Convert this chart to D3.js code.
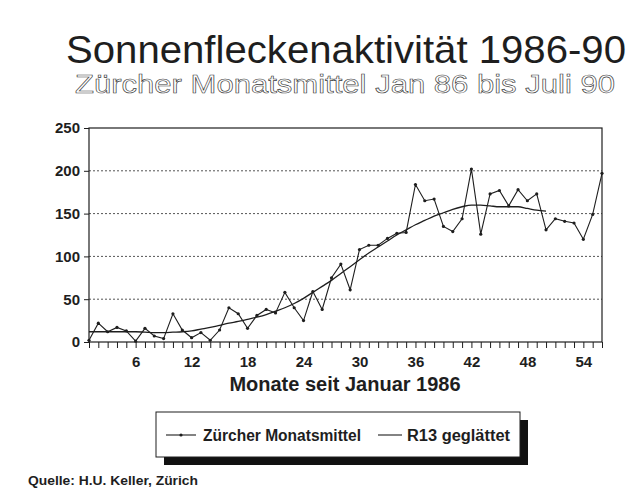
<!DOCTYPE html>
<html>
<head>
<meta charset="utf-8">
<script src="https://cdn.jsdelivr.net/npm/d3@7"></script>
<style>
  body { margin: 0; background: #fff; }
  svg { display: block; font-family: "Liberation Sans", Arial, Helvetica, sans-serif; }
</style>
</head>
<body>
<div id="chart"></div>
<script>
// Zürcher Monatsmittel, Monate 1..56 (Jan 1986 ...)
const monthly = [2, 22, 12, 17, 13, 1, 16, 7, 4, 33, 14, 5,
    11, 2, 14, 40, 33, 16, 31, 38, 34, 58, 40, 25,
    59, 38, 75, 91, 61, 108, 113, 113, 121, 127, 128, 184,
    165, 167, 135, 129, 144, 202, 126, 173, 177, 159, 178, 165,
    173, 131, 144, 141, 139, 120, 149, 197];
// R13 geglättet, Monate 1..50
const smoothed = [12, 12, 12, 12, 12, 12, 11.5, 11, 11, 11.5, 12, 13,
    15, 17, 19.5, 22, 24, 26.5, 29, 32, 36, 40, 45, 51,
    58, 65, 72, 80, 88, 96, 104, 111, 118, 125, 131, 137,
    142, 147, 151, 155, 158, 160, 160, 159, 158, 158, 158, 156,
    154, 153];
const yTicks = [0, 50, 100, 150, 200, 250];
const xTickLabels = [6, 12, 18, 24, 30, 36, 42, 48, 54];
const seriesNames = ["Zürcher Monatsmittel", "R13 geglättet"];

const W = 640, H = 502;
const plot = { left: 89, right: 602, top: 128, bottom: 342 };
const ink = "#1e1e1e";

const svg = d3.select("#chart").append("svg")
    .attr("width", W)
    .attr("height", H);

svg.append("rect").attr("width", W).attr("height", H).attr("fill", "#fff");

// titles
svg.append("text")
    .attr("x", 346).attr("y", 63)
    .attr("text-anchor", "middle")
    .attr("font-size", 39)
    .attr("fill", ink)
    .attr("textLength", 560)
    .attr("lengthAdjust", "spacingAndGlyphs")
    .text("Sonnenfleckenaktivität 1986-90");

svg.append("text")
    .attr("x", 345).attr("y", 93)
    .attr("text-anchor", "middle")
    .attr("font-size", 26)
    .attr("fill", "#fff")
    .attr("stroke", "#3a3a3a")
    .attr("stroke-width", 0.6)
    .attr("textLength", 540)
    .attr("lengthAdjust", "spacingAndGlyphs")
    .text("Zürcher Monatsmittel Jan 86 bis Juli 90");

var x = d3.scaleLinear().domain([1, 56]).range([plot.left, plot.right]),
    y = d3.scaleLinear().domain([0, 250]).range([plot.bottom, plot.top]);

// grid
svg.append("g")
    .selectAll("line")
    .data(yTicks.filter(d => d > 0 && d < 250))
    .enter().append("line")
    .attr("x1", plot.left).attr("x2", plot.right)
    .attr("y1", d => y(d)).attr("y2", d => y(d))
    .attr("stroke", "#555")
    .attr("stroke-width", 1)
    .attr("stroke-dasharray", "2,2");

// frame
svg.append("rect")
    .attr("x", plot.left).attr("y", plot.top)
    .attr("width", plot.right - plot.left)
    .attr("height", plot.bottom - plot.top)
    .attr("fill", "none")
    .attr("stroke", ink)
    .attr("stroke-width", 1.2);

// y axis
var yAxis = svg.append("g")
    .attr("transform", "translate(" + plot.left + ",0)")
    .call(d3.axisLeft(y).tickValues(yTicks).tickSize(5).tickPadding(4));
yAxis.select(".domain").remove();
yAxis.selectAll("line").attr("stroke", ink);
yAxis.selectAll("text")
    .attr("font-size", 15)
    .attr("font-weight", "bold")
    .attr("fill", ink)
    .attr("font-family", "Liberation Sans, Arial, sans-serif");

// x axis: a tick every month
var xAxis = svg.append("g")
    .attr("transform", "translate(0," + plot.bottom + ")")
    .call(d3.axisBottom(x).tickValues(d3.range(1, 57)).tickSize(6).tickFormat(""));
xAxis.select(".domain").remove();
xAxis.selectAll("line").attr("stroke", ink);

var xLab = svg.append("g")
    .attr("transform", "translate(0," + plot.bottom + ")")
    .call(d3.axisBottom(x).tickValues(xTickLabels).tickSize(0).tickPadding(14));
xLab.select(".domain").remove();
xLab.selectAll("text")
    .attr("font-size", 15)
    .attr("font-weight", "bold")
    .attr("fill", ink)
    .attr("font-family", "Liberation Sans, Arial, sans-serif");

svg.append("text")
    .attr("x", 345).attr("y", 391)
    .attr("text-anchor", "middle")
    .attr("font-size", 20)
    .attr("font-weight", "bold")
    .attr("fill", ink)
    .text("Monate seit Januar 1986");

// series
svg.append("path")
    .datum(smoothed)
    .attr("d", d3.line().x((d, i) => x(i + 1)).y(d => y(d)).curve(d3.curveMonotoneX))
    .attr("fill", "none")
    .attr("stroke", ink)
    .attr("stroke-width", 1.3);

svg.append("path")
    .datum(monthly)
    .attr("d", d3.line().x((d, i) => x(i + 1)).y(d => y(d)))
    .attr("fill", "none")
    .attr("stroke", ink)
    .attr("stroke-width", 1.1);

svg.selectAll(".dot")
    .data(monthly)
    .enter().append("circle")
    .attr("class", "dot")
    .attr("cx", (d, i) => x(i + 1))
    .attr("cy", d => y(d))
    .attr("r", 1.6)
    .attr("fill", ink);

// legend with drop shadow
var lg = svg.append("g").attr("transform", "translate(156,412)");
lg.append("rect")
    .attr("x", 8).attr("y", 8)
    .attr("width", 364).attr("height", 45)
    .attr("fill", "#111");
lg.append("rect")
    .attr("width", 364).attr("height", 45)
    .attr("fill", "#fff")
    .attr("stroke", ink)
    .attr("stroke-width", 1);

lg.append("line")
    .attr("x1", 10).attr("x2", 40).attr("y1", 23).attr("y2", 23)
    .attr("stroke", ink).attr("stroke-width", 1.1);
lg.append("circle")
    .attr("cx", 25).attr("cy", 23).attr("r", 1.6).attr("fill", ink);
lg.append("text")
    .attr("x", 47).attr("y", 28.5)
    .attr("font-size", 16)
    .attr("font-weight", "bold")
    .attr("fill", ink)
    .attr("textLength", 158)
    .attr("lengthAdjust", "spacingAndGlyphs")
    .text(seriesNames[0]);

lg.append("line")
    .attr("x1", 222).attr("x2", 246).attr("y1", 23).attr("y2", 23)
    .attr("stroke", ink).attr("stroke-width", 1.1);
lg.append("text")
    .attr("x", 251).attr("y", 28.5)
    .attr("font-size", 16)
    .attr("font-weight", "bold")
    .attr("fill", ink)
    .attr("textLength", 103)
    .attr("lengthAdjust", "spacingAndGlyphs")
    .text(seriesNames[1]);

svg.append("text")
    .attr("x", 28).attr("y", 485)
    .attr("font-size", 12.5)
    .attr("font-weight", "bold")
    .attr("fill", ink)
    .attr("textLength", 170)
    .attr("lengthAdjust", "spacingAndGlyphs")
    .text("Quelle: H.U. Keller, Zürich");
</script>
</body>
</html>
